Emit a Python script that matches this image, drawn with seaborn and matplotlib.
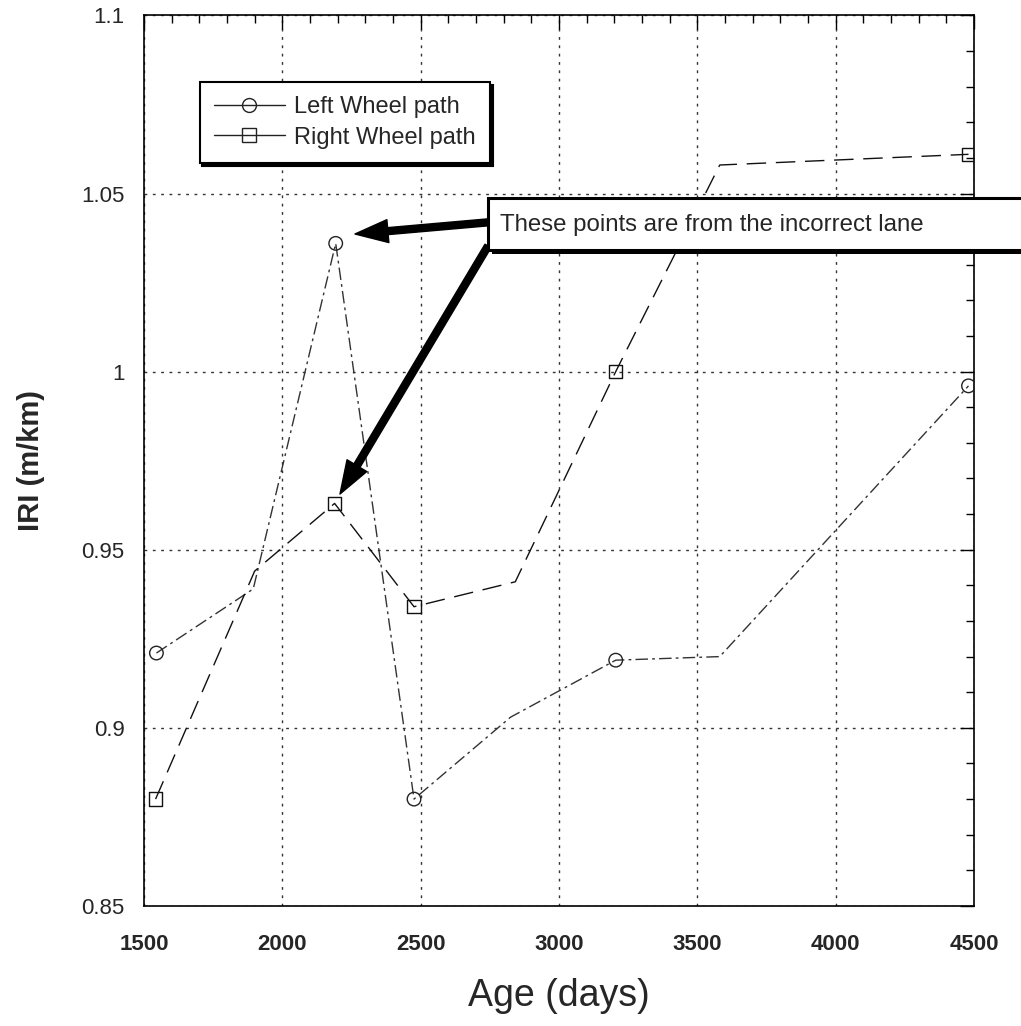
import matplotlib
matplotlib.use("Agg")
import matplotlib.pyplot as plt
from matplotlib.patches import Rectangle
from matplotlib.lines import Line2D
from matplotlib.ticker import MultipleLocator
import seaborn as sns
import pandas as pd

# ---------------- data ----------------
left_age = [1545, 1895, 2193, 2476, 2825, 3205, 3581, 4480]
left_iri = [0.921, 0.939, 1.036, 0.880, 0.903, 0.919, 0.920, 0.996]
left_marked = [True, False, True, True, False, True, False, True]

right_age = [1542, 1900, 2189, 2476, 2842, 3205, 3581, 4480]
right_iri = [0.880, 0.944, 0.963, 0.934, 0.941, 1.000, 1.058, 1.061]
right_marked = [True, False, True, True, False, True, False, True]

series_names = ["Left Wheel path", "Right Wheel path"]
x_ticks = [1500, 2000, 2500, 3000, 3500, 4000, 4500]
x_ticklabels = ["1500", "2000", "2500", "3000", "3500", "4000", "4500"]
y_ticks = [0.85, 0.9, 0.95, 1.0, 1.05, 1.1]
y_ticklabels = ["0.85", "0.9", "0.95", "1", "1.05", "1.1"]
note_text = "These points are from the incorrect lane"

# ---------------- style ----------------
sns.set_theme(style="white")
plt.rcParams["font.family"] = ["Liberation Sans", "DejaVu Sans"]

fig = plt.figure(figsize=(10.21, 10.26), dpi=100)
ax = fig.add_axes([0.141, 0.117, 0.813, 0.868])

df_left = pd.DataFrame({"age": left_age, "iri": left_iri, "mk": left_marked})
df_right = pd.DataFrame({"age": right_age, "iri": right_iri, "mk": right_marked})

sns.lineplot(data=df_left, x="age", y="iri", sort=False, estimator=None,
             color="#333333", lw=1.0, linestyle=(0, (9, 3, 2, 3)), ax=ax)
sns.lineplot(data=df_right, x="age", y="iri", sort=False, estimator=None,
             color="#111111", lw=1.0, linestyle=(0, (14, 7)), ax=ax)

sns.scatterplot(data=df_left[df_left["mk"]], x="age", y="iri", marker="o",
                s=95, linewidth=1.0, ax=ax, zorder=5)
c1 = ax.collections[-1]
c1.set_facecolor("none"); c1.set_edgecolor("#222222")
sns.scatterplot(data=df_right[df_right["mk"]], x="age", y="iri", marker="s",
                s=95, linewidth=1.0, ax=ax, zorder=5)
c2 = ax.collections[-1]
c2.set_facecolor("none"); c2.set_edgecolor("#111111")

# ---------------- axes ----------------
ax.set_xlim(1500, 4500)
ax.set_ylim(0.85, 1.1)
ax.set_xticks(x_ticks)
ax.set_xticklabels(x_ticklabels, fontsize=16, fontweight="bold")
ax.set_yticks(y_ticks)
ax.set_yticklabels(y_ticklabels, fontsize=16)
ax.xaxis.set_minor_locator(MultipleLocator(100))
ax.yaxis.set_minor_locator(MultipleLocator(0.01))
ax.tick_params(which="both", direction="in", top=True, right=True, color="black")
ax.tick_params(which="major", length=10, width=1.0)
ax.tick_params(which="minor", length=6, width=1.0)
ax.tick_params(axis="x", which="major", pad=20)
ax.tick_params(axis="y", which="major", pad=14)
ax.grid(True, which="major", linestyle=(0, (2, 4)), color="#333333", lw=1.0)
for s in ax.spines.values():
    s.set_color("black"); s.set_linewidth(1.2)

ax.set_xlabel("Age (days)", fontsize=27, labelpad=17)
ax.set_ylabel("IRI (m/km)", fontsize=21, fontweight="bold", labelpad=26)

# ---------------- legend ----------------
handles = [
    Line2D([], [], color="#222222", lw=1.0, marker="o", markersize=10,
           markerfacecolor="none", markeredgecolor="#222222"),
    Line2D([], [], color="#222222", lw=1.0, marker="s", markersize=10,
           markerfacecolor="none", markeredgecolor="#222222"),
]
leg = ax.legend(handles, series_names, loc="upper left",
                bbox_to_anchor=(0.067, 0.925), borderaxespad=0,
                fontsize=17, frameon=True, fancybox=False, framealpha=1,
                edgecolor="black", handlelength=3.0, handletextpad=0.4,
                borderpad=0.6, labelspacing=0.35,
                shadow={"color": "black", "alpha": 1.0})
leg.get_frame().set_linewidth(1.5)

# ---------------- annotation box and arrows ----------------
W, H = 1021.0, 1026.0
def fx(px):
    return px / W
def fy(py):
    return 1 - py / H

shadow = Rectangle((fx(492), fy(254)), fx(1040) - fx(492), fy(202) - fy(254),
                   transform=fig.transFigure, facecolor="black", edgecolor="none",
                   zorder=3)
box = Rectangle((fx(488), fy(250)), fx(1040) - fx(488), fy(198) - fy(250),
                transform=fig.transFigure, facecolor="white", edgecolor="black",
                lw=2.2, zorder=4)
fig.patches.extend([shadow, box])
fig.text(fx(500), fy(225), note_text, fontsize=17.3, va="center", ha="left",
         zorder=6)

arrow_style = "simple,head_length=0.66,head_width=0.46,tail_width=0.14"
ax.annotate("", xy=(355, H - 234), xycoords="figure pixels",
            xytext=(492, H - 222), textcoords="figure pixels",
            arrowprops=dict(arrowstyle=arrow_style, color="black",
                            mutation_scale=36, shrinkA=0, shrinkB=0))
ax.annotate("", xy=(340, H - 494), xycoords="figure pixels",
            xytext=(488, H - 246), textcoords="figure pixels",
            arrowprops=dict(arrowstyle=arrow_style, color="black",
                            mutation_scale=36, shrinkA=0, shrinkB=0))

fig.savefig("out.png", dpi=100)
